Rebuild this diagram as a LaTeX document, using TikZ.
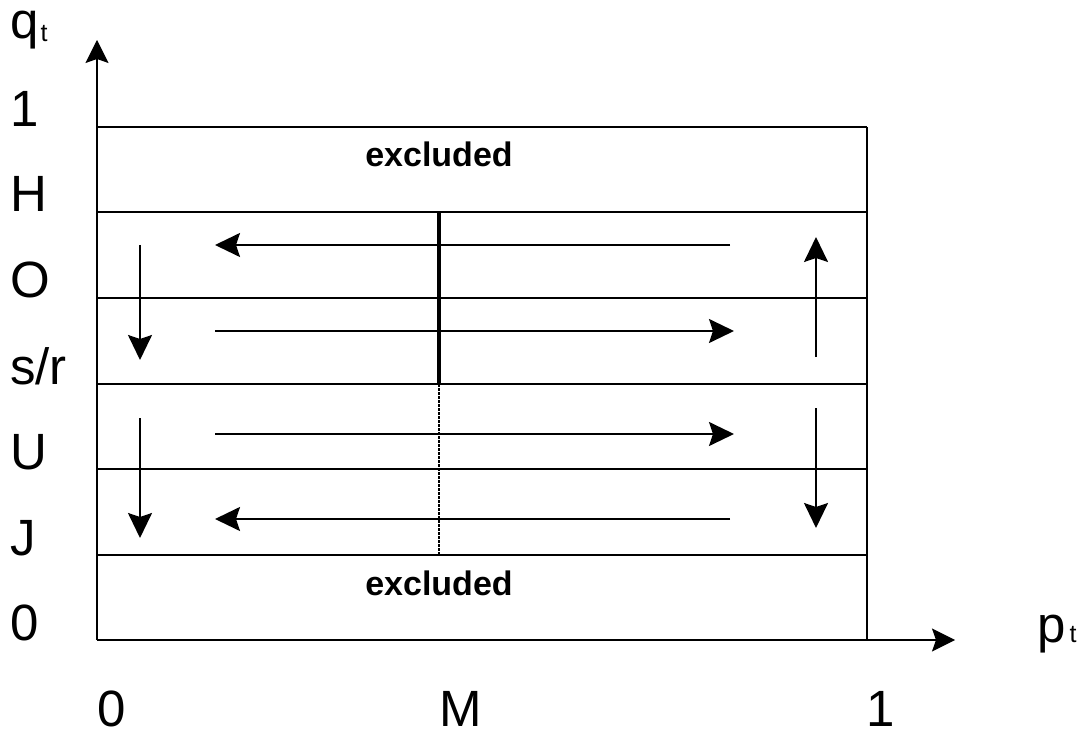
\documentclass[tikz,border=0pt]{standalone}
\usepackage{fontspec}
\setmainfont{Liberation Sans}
\usetikzlibrary{arrows.meta}
\begin{document}
\begin{tikzpicture}[x=1pt,y=-1pt,
  lbl/.style={anchor=base west,inner sep=0pt,font=\fontsize{51}{51}\selectfont},
  excl/.style={anchor=base,inner sep=0pt,font=\fontsize{34}{34}\selectfont\bfseries},
  gridline/.style={line width=2pt},
  axisline/.style={line width=1.3pt,-{Stealth[length=23pt,width=23pt,inset=4pt]}},
  flow/.style={line width=2pt,-{Stealth[length=25pt,width=24pt,inset=4pt]}},
]
\useasboundingbox (0,0) rectangle (1087,735);
% axes
\coordinate (O0) at (97,640);
\coordinate (ytip) at (97,40);
\coordinate (xtip) at (955,640);
\draw[axisline] (O0) -- (ytip);
\draw[axisline] (O0) -- (xtip);
% box lines
\foreach \n/\y in {l1/127,lH/212,lO/298,lS/384,lU/469,lJ/555}{
  \coordinate (\n a) at (97,\y);
  \coordinate (\n b) at (867,\y);
  \draw[gridline] (\n a) -- (\n b);
}
\coordinate (rb) at (867,640);
\draw[gridline] (l1b) -- (rb);
% M line
\coordinate (mtop) at (439,212);
\coordinate (mmid) at (439,384);
\coordinate (mbot) at (439,555);
\draw[line width=4.5pt] (mtop) -- (mmid);
\draw[line width=2pt,dash pattern=on 2.5pt off 1.5pt] (mmid) -- (mbot);
% horizontal flows
\coordinate (h1s) at (730,245); \coordinate (h1e) at (215,245);
\coordinate (h2s) at (215,331); \coordinate (h2e) at (734,331);
\coordinate (h3s) at (215,434); \coordinate (h3e) at (734,434);
\coordinate (h4s) at (730,519); \coordinate (h4e) at (215,519);
\draw[flow] (h1s) -- (h1e);
\draw[flow] (h2s) -- (h2e);
\draw[flow] (h3s) -- (h3e);
\draw[flow] (h4s) -- (h4e);
% vertical flows
\coordinate (v1s) at (140,245); \coordinate (v1e) at (140,360);
\coordinate (v2s) at (140,418); \coordinate (v2e) at (140,538);
\coordinate (v3s) at (816,357); \coordinate (v3e) at (816,237);
\coordinate (v4s) at (816,408); \coordinate (v4e) at (816,528);
\draw[flow] (v1s) -- (v1e);
\draw[flow] (v2s) -- (v2e);
\draw[flow] (v3s) -- (v3e);
\draw[flow] (v4s) -- (v4e);
% labels
\node[lbl] (qt) at (10,39) {q\kern2pt\raisebox{-3pt}{\fontsize{25}{25}\selectfont t}};
\node[lbl] (L1) at (10,127) {1};
\node[lbl] (LH) at (10,212) {H};
\node[lbl] (LO) at (10,298) {O};
\node[lbl] (LS) at (10,384) {s/r};
\node[lbl] (LU) at (10,469) {U};
\node[lbl] (LJ) at (10,555) {J};
\node[lbl] (L0) at (10,640) {0};
\node[lbl] (B0) at (97,726) {0};
\node[lbl] (BM) at (439,726) {M};
\node[lbl] (B1) at (866,726) {1};
\node[lbl] (pt) at (1037,642) {p\kern4pt{\fontsize{25}{25}\selectfont t}};
\node[excl] (ex1) at (439,167) {excluded};
\node[excl] (ex2) at (439,595) {excluded};
\end{tikzpicture}
\end{document}
